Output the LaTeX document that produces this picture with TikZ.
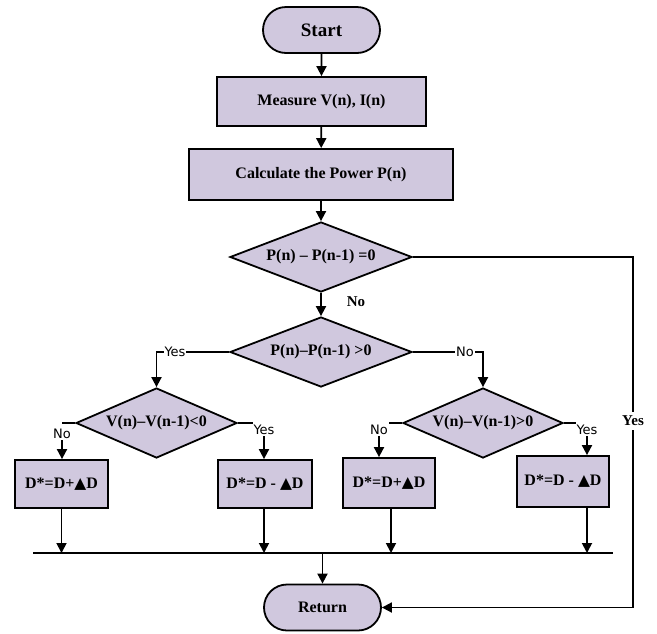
\documentclass[tikz,border=0pt]{standalone}
\usepackage{fontspec}
\setmainfont{Liberation Serif}
\newfontfamily\branchfont{DejaVu Sans}
\newfontfamily\symfont{DejaVu Sans}
\usetikzlibrary{shapes.geometric,shapes.misc,arrows.meta}
\definecolor{boxfill}{RGB}{208,200,222}
\newcommand{\tri}{{\symfont\fontsize{15.5}{15}\selectfont▲}}

\begin{document}
\begin{tikzpicture}[x=1pt,y=-1pt,
  txt/.style={font=\bfseries\fontsize{16}{18}\selectfont},
  base/.style={draw=black, line width=1.8pt, fill=boxfill, inner sep=0pt, txt},
  terminal/.style={base, rounded rectangle, minimum width=117pt, minimum height=46pt},
  procbox/.style={base, rectangle},
  decision/.style={base, diamond, label={[txt, inner sep=0pt]center:#1}},
  conn/.style={line width=1.8pt},
  arr/.style={conn, -{Triangle[length=10pt,width=10pt]}},
  branch/.style={font=\branchfont\fontsize{13}{14}\selectfont, inner sep=1pt},
  seriflabel/.style={font=\bfseries\fontsize{15}{17}\selectfont, inner sep=1pt},
]
\useasboundingbox (0,0) rectangle (657,633);

% main column
\node[terminal, font=\bfseries\fontsize{19}{22}\selectfont] (start) at (321.5,30) {Start};
\node[procbox, minimum width=209pt, minimum height=49pt] (measure) at (321.5,101.5) {Measure V(n), I(n)};
\node[procbox, minimum width=264pt, minimum height=51pt] (calc) at (321,174.5) {Calculate the Power P(n)};
\node[decision={P(n) -- P(n-1) =0}, minimum width=182pt, minimum height=70pt] (d1) at (321,257) {};
\node[decision={P(n)--P(n-1) >0}, minimum width=182pt, minimum height=70pt] (d2) at (321,352) {};

% second level decisions
\node[decision={V(n)--V(n-1)<0}, minimum width=161pt, minimum height=70pt] (d3) at (156.5,423) {};
\node[decision={V(n)--V(n-1)>0}, minimum width=160pt, minimum height=70pt] (d4) at (483,423) {};

% duty-cycle updates
\node[procbox, minimum width=93pt, minimum height=48pt] (b1) at (61.5,484) {D*=D+\tri D};
\node[procbox, minimum width=94pt, minimum height=48pt] (b2) at (265,484) {D*=D - \tri D};
\node[procbox, minimum width=92pt, minimum height=50pt] (b3) at (389,483) {D*=D+\tri D};
\node[procbox, minimum width=92pt, minimum height=51pt] (b4) at (563,481.5) {D*=D - \tri D};

\node[terminal] (ret) at (322.5,607.5) {Return};

% straight flow
\draw[arr] (start) -- (measure);
\draw[arr] (measure) -- (calc);
\draw[arr] (calc) -- (d1);
\draw[arr] (d1) -- (d2);
\node[seriflabel] (no1) at (356,302) {No};

% P(n)-P(n-1)=0 : Yes -> Return
\coordinate (c1) at (633,257);
\coordinate (c2) at (633,607.5);
\draw[arr] (d1.east) -- (c1) -- (c2) -- (ret.east);
\node[seriflabel, fill=white, inner ysep=4pt] (yes1) at (633,421) {Yes};

% P(n)-P(n-1)>0 branches
\coordinate (c3) at (156.5,352);
\draw[arr] (d2.west) -- (c3) -- (d3.north);
\node[branch, fill=white] (yes2) at (175,352) {Yes};
\coordinate (c4) at (483,352);
\draw[arr] (d2.east) -- (c4) -- (d4.north);
\node[branch, fill=white] (no2) at (465,352) {No};

% V(n)-V(n-1)<0 branches
\coordinate (s3l) at (61.5,423);
\draw[conn] (d3.west) -- (s3l);
\node[branch] (no3) at (62,434) {No};
\draw[arr] (no3.south) -- (no3.south |- b1.north);
\coordinate (s3r) at (253,423);
\draw[conn] (d3.east) -- (s3r);
\node[branch] (yes3) at (264,430) {Yes};
\draw[arr] (yes3.south) -- (yes3.south |- b2.north);

% V(n)-V(n-1)>0 branches
\coordinate (s4l) at (389,423);
\draw[conn] (d4.west) -- (s4l);
\node[branch] (no4) at (379,430) {No};
\draw[arr] (no4.south) -- (no4.south |- b3.north);
\coordinate (s4r) at (576,423);
\draw[conn] (d4.east) -- (s4r);
\node[branch] (yes4) at (587,430) {Yes};
\draw[arr] (yes4.south) -- (yes4.south |- b4.north);

% collecting bus
\coordinate (busL) at (33,553);
\coordinate (busR) at (613,553);
\coordinate (busM) at (322.5,553);
\draw[conn] (busL) -- (busR);
\draw[arr] (b1.south) -- (b1.south |- busM);
\draw[arr] ([xshift=-1pt]b2.south) -- ([xshift=-1pt]b2.south |- busM);
\draw[arr] ([xshift=2pt]b3.south) -- ([xshift=2pt]b3.south |- busM);
\draw[arr] (yes4.south |- b4.south) -- (yes4.south |- busM);
\draw[arr] (busM) -- (ret.north);
\end{tikzpicture}
\end{document}
